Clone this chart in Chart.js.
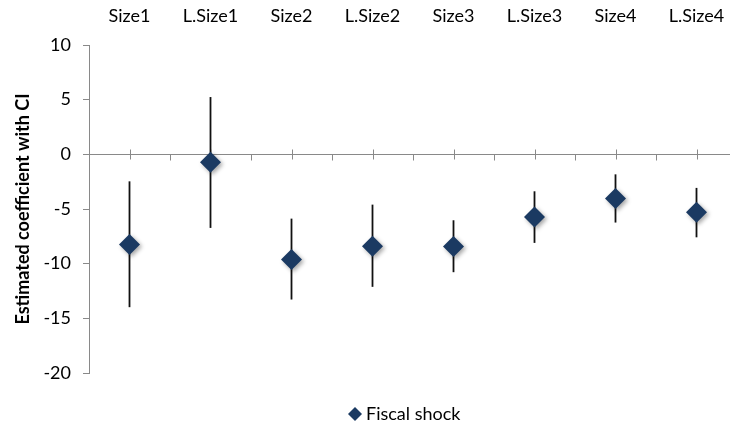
<!DOCTYPE html>
<html>
<head>
<meta charset="utf-8">
<script src="https://cdn.jsdelivr.net/npm/chart.js@4"></script>
<style>
  html, body { margin: 0; padding: 0; background: #fff; overflow: hidden; }
  #wrap { width: 737px; height: 428px; }
</style>
</head>
<body>
<div id="wrap"><canvas id="grafico" width="737" height="428"></canvas></div>
<script>
const categorias = ["Size1", "L.Size1", "Size2", "L.Size2", "Size3", "L.Size3", "Size4", "L.Size4"];
const coeficientes = [-8.25, -0.73, -9.63, -8.41, -8.44, -5.73, -4.05, -5.3];
const limiteSup = [-2.47, 5.24, -5.88, -4.6, -6.03, -3.38, -1.83, -3.07];
const limiteInf = [-13.98, -6.73, -13.28, -12.12, -10.78, -8.1, -6.24, -7.59];
const ticksY = [10, 5, 0, -5, -10, -15, -20];

const corPonto = "#1b3a62";
const corEixo = "#898989";
const fonte = "Lato, 'Open Sans', sans-serif";

// barras de erro (IC) desenhadas antes dos losangos
const barrasErro = {
    id: "barrasErro",
    beforeDatasetsDraw(chart) {
        const { ctx, scales: { x, y } } = chart;
        ctx.save();
        ctx.strokeStyle = "#111";
        ctx.lineWidth = 1.8;
        categorias.forEach((c, i) => {
            const px = x.getPixelForValue(i);
            ctx.beginPath();
            ctx.moveTo(px, y.getPixelForValue(limiteSup[i]));
            ctx.lineTo(px, y.getPixelForValue(limiteInf[i]));
            ctx.stroke();
        });
        ctx.restore();
    }
};

// eixo horizontal no zero, com marcas
const eixoZero = {
    id: "eixoZero",
    beforeDatasetsDraw(chart) {
        const { ctx, chartArea, scales: { x, y } } = chart;
        const y0 = Math.round(y.getPixelForValue(0)) + 0.5;
        ctx.save();
        ctx.strokeStyle = corEixo;
        ctx.lineWidth = 1;
        ctx.beginPath();
        ctx.moveTo(chartArea.left, y0);
        ctx.lineTo(chartArea.right, y0);
        categorias.forEach((c, i) => {
            const pc = Math.round(x.getPixelForValue(i)) + 0.5;
            ctx.moveTo(pc, y0 - 5);
            ctx.lineTo(pc, y0 + 5);
            const pb = Math.round(x.getPixelForValue(i + 0.5)) + 0.5;
            ctx.moveTo(pb, y0);
            ctx.lineTo(pb, y0 + 6);
        });
        ctx.stroke();
        ctx.restore();
    }
};

// sombra dos losangos
const sombra = {
    id: "sombra",
    beforeDatasetDraw(chart) {
        const ctx = chart.ctx;
        ctx.save();
        ctx.shadowColor = "rgba(0, 0, 0, 0.35)";
        ctx.shadowBlur = 4;
        ctx.shadowOffsetX = 2;
        ctx.shadowOffsetY = 2;
    },
    afterDatasetDraw(chart) {
        chart.ctx.restore();
    }
};

// legenda manual, centrada como no original
const legenda = {
    id: "legenda",
    afterDraw(chart) {
        const ctx = chart.ctx;
        const cx = 355, cy = 414, r = 7;
        ctx.save();
        ctx.fillStyle = corPonto;
        ctx.beginPath();
        ctx.moveTo(cx, cy - r);
        ctx.lineTo(cx + r, cy);
        ctx.lineTo(cx, cy + r);
        ctx.lineTo(cx - r, cy);
        ctx.closePath();
        ctx.fill();
        ctx.fillStyle = "#000";
        ctx.font = "18px " + fonte;
        ctx.textBaseline = "middle";
        ctx.fillText(chart.data.datasets[0].label, 366, cy);
        ctx.restore();
    }
};

const ctx = document.getElementById("grafico").getContext("2d");

new Chart(ctx, {
    type: "scatter",
    data: {
        datasets: [{
            label: "Fiscal shock",
            data: coeficientes.map((v, i) => ({ x: i, y: v })),
            pointStyle: "rectRot",
            pointRadius: 10.5,
            pointHoverRadius: 10.5,
            backgroundColor: corPonto,
            borderWidth: 0
        }]
    },
    options: {
        responsive: false,
        animation: false,
        events: [],
        layout: {
            autoPadding: false,
            padding: { top: 0, right: 0, bottom: 55, left: 0 }
        },
        plugins: {
            legend: { display: false },
            tooltip: { enabled: false }
        },
        scales: {
            x: {
                type: "linear",
                position: "top",
                min: -0.5,
                max: 7.5,
                afterBuildTicks(scale) {
                    scale.ticks = categorias.map((c, i) => ({ value: i }));
                },
                afterFit(scale) {
                    scale.height = 45;
                },
                grid: { display: false },
                border: { display: false },
                ticks: {
                    color: "#000",
                    padding: 10,
                    maxRotation: 0,
                    autoSkip: false,
                    font: { family: fonte, size: 18 },
                    callback: v => categorias[v]
                }
            },
            y: {
                min: -20,
                max: 10,
                afterBuildTicks(scale) {
                    scale.ticks = ticksY.map(v => ({ value: v }));
                },
                afterFit(scale) {
                    scale.width = 89;
                },
                grid: {
                    drawOnChartArea: false,
                    drawTicks: true,
                    tickLength: 6,
                    color: corEixo
                },
                border: { display: true, color: corEixo, width: 1 },
                ticks: {
                    color: "#000",
                    padding: 12,
                    font: { family: fonte, size: 18 }
                },
                title: {
                    display: true,
                    text: "Estimated coefficient with CI",
                    color: "#000",
                    padding: { top: 12, bottom: 0 },
                    font: { family: fonte, size: 18, weight: "bold" }
                }
            }
        }
    },
    plugins: [barrasErro, eixoZero, sombra, legenda]
});
</script>
</body>
</html>
